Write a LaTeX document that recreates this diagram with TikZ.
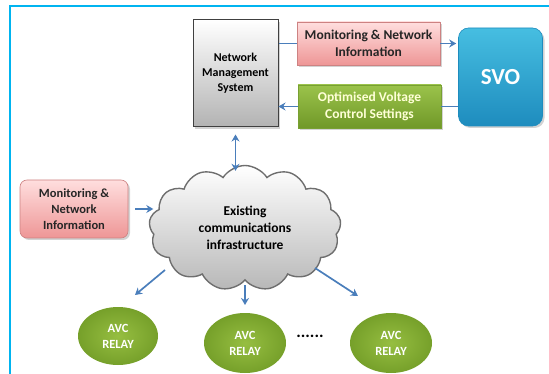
\documentclass[tikz,border=0pt]{standalone}
\usepackage{fontspec}
\setmainfont{Carlito}
\usetikzlibrary{shapes.symbols,shapes.geometric,shadows,arrows.meta}

\definecolor{framecyan}{RGB}{0,180,240}
\definecolor{linkblue}{RGB}{74,126,187}
\definecolor{pinktop}{RGB}{255,222,222}
\definecolor{pinkbot}{RGB}{238,150,150}
\definecolor{pinkedge}{RGB}{205,130,130}
\definecolor{greentop}{RGB}{155,195,75}
\definecolor{greenbot}{RGB}{112,152,40}
\definecolor{greenedge}{RGB}{120,160,50}
\definecolor{greentext}{RGB}{255,255,215}
\definecolor{svotop}{RGB}{70,190,225}
\definecolor{svobot}{RGB}{30,140,190}
\definecolor{relayin}{RGB}{150,190,65}
\definecolor{relayout}{RGB}{118,160,42}
\definecolor{cloudedge}{RGB}{110,110,110}

\begin{document}
\begin{tikzpicture}[x=1pt,y=-1pt,
  conn/.style={draw=linkblue, line width=1.7pt},
  tip/.style={conn, -{Stealth[length=7pt,width=8pt]}},
  twotip/.style={conn, {Stealth[length=7pt,width=8pt]}-{Stealth[length=7pt,width=8pt]}},
  shadowed/.style={drop shadow={opacity=0.35, shadow xshift=2pt, shadow yshift=-2pt}},
  nmsbox/.style={shadowed, draw=black!75, line width=1pt, top color=white, bottom color=black!30,
    minimum width=85pt, minimum height=107pt, align=center, font=\fontsize{12}{15}\selectfont\bfseries},
  infobox/.style={shadowed, draw=pinkedge, line width=0.6pt, top color=pinktop, bottom color=pinkbot,
    align=center, text=black!85, font=\fontsize{13.5}{16.5}\selectfont\bfseries},
  settingbox/.style={shadowed, draw=greenedge, line width=0.6pt, top color=greentop, bottom color=greenbot,
    align=center, text=greentext, font=\fontsize{13.5}{16.5}\selectfont\bfseries},
  svobox/.style={shadowed, rounded corners=10pt, draw=svobot, line width=0.6pt, top color=svotop, bottom color=svobot,
    text=white, font=\fontsize{23}{26}\selectfont\bfseries},
  cloudnode/.style={cloud, cloud puffs=13, cloud puff arc=115, aspect=1.55, draw=cloudedge, line width=1.4pt,
    top color=white, bottom color=black!28, align=center, font=\fontsize{13.5}{17}\selectfont\bfseries},
  relay/.style={ellipse, inner color=relayin, outer color=relayout, text=white, align=center,
    font=\fontsize{12.5}{16}\selectfont\bfseries, inner sep=0pt}
]
\useasboundingbox (0,0) rectangle (549,374);

% frame lines along the top and left
\draw[framecyan, line width=2pt] (549,6) -- (10,6) -- (10,374);

% management side
\node[nmsbox] (nms) at (235.5,73.5) {Network\\Management\\System};
\node[infobox, minimum width=143pt, minimum height=43pt] (monitor) at (368.5,43.5)
  {Monitoring \& Network\\Information};
\node[settingbox, minimum width=143pt, minimum height=43pt] (settings) at (369.5,106.5)
  {Optimised Voltage\\Control Settings};
\node[svobox, minimum width=84pt, minimum height=98pt] (svo) at (500.5,77) {SVO};

% data path to and from SVO
\draw[conn] (nms.east |- monitor.west) -- (monitor.west);
\draw[tip, shorten >=2pt] (monitor.east) -- (svo.west |- monitor.east);
\draw[conn] (svo.west |- settings.east) -- (settings.east);
\draw[tip] (settings.west) -- (nms.east |- settings.west);

% communications network
\node[cloudnode, minimum width=192pt, minimum height=125pt] (cloud) at (245,228)
  {Existing\\communications\\infrastructure};
\node[infobox, rounded corners=7pt, minimum width=108pt, minimum height=58pt,
  font=\fontsize{12.5}{16}\selectfont\bfseries] (localinfo) at (74,209)
  {Monitoring \&\\Network\\Information};

\draw[twotip, shorten <=7pt, shorten >=-6pt] (nms.south) -- (nms.south |- cloud.north);
\draw[tip, shorten <=7pt, shorten >=-4pt] (localinfo.east) -- (localinfo.east -| cloud.west);

% relays
\node[relay, minimum width=80pt, minimum height=58pt] (r1) at (118,336) {AVC\\RELAY};
\node[relay, minimum width=82pt, minimum height=60pt] (r2) at (245,343) {AVC\\RELAY};
\node[relay, minimum width=82pt, minimum height=60pt] (r3) at (391,343) {AVC\\RELAY};
\node[font=\fontsize{17}{17}\selectfont\bfseries] (dots) at (310,336) {......};

\coordinate (a1) at (165,270); \coordinate (b1) at (135,295);
\coordinate (a2) at (245,285); \coordinate (b2) at (245,305);
\coordinate (a3) at (315,268); \coordinate (b3) at (358,296);
\draw[tip] (a1) -- (b1);
\draw[tip] (a2) -- (b2);
\draw[tip] (a3) -- (b3);
\end{tikzpicture}
\end{document}
